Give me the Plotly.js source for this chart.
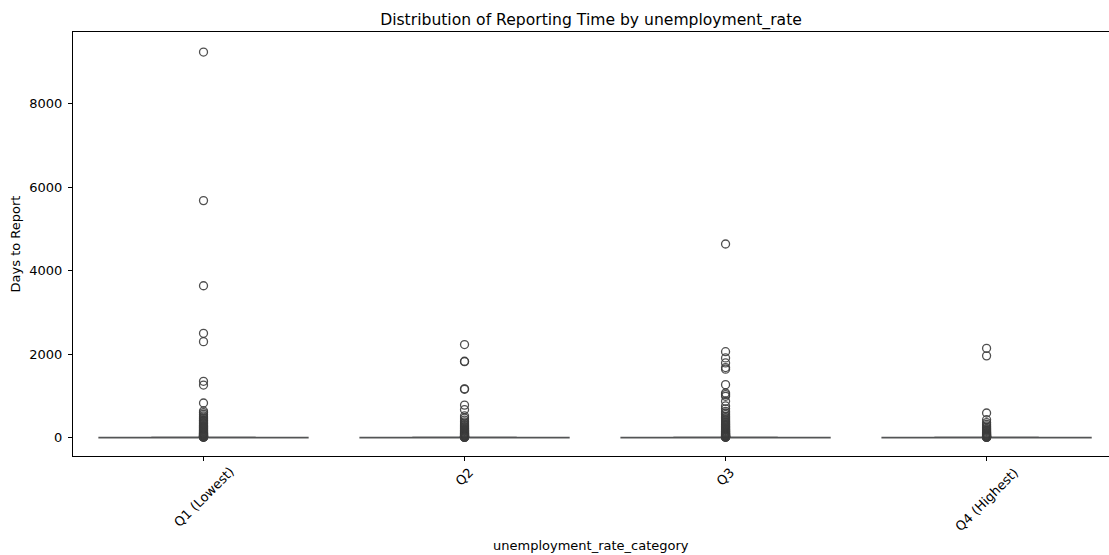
<!DOCTYPE html>
<html>
<head>
<meta charset="utf-8">
<script src="https://cdn.plot.ly/plotly-3.0.1.min.js"></script>
<style>
  html, body { margin: 0; padding: 0; background: #ffffff; }
  #chart { width: 1109px; height: 555px; }
</style>
</head>
<body>
<div id="chart"></div>
<script>
// Unemployment-rate quartile groups
const categories = ["Q1 (Lowest)", "Q2", "Q3", "Q4 (Highest)"];

// Box summary (days to report) for each group
const q1Values = [0, 0, 0, 0];
const medianValues = [1, 1, 1, 1];
const q3Values = [3, 3, 3, 3];
const lowerFence = [0, 0, 0, 0];
const upperFence = [7, 7, 7, 7];

// Outlying reporting times (days) for each group
const outliersQ1 = [9240, 5680, 3640, 2500, 2300, 1350, 1260, 830, 640, 600, 560, 520, 490, 460,
  430, 410, 390, 370, 350, 330, 310, 290, 275, 260, 245, 230, 215, 200, 185, 170, 158, 146, 135,
  124, 114, 105, 96, 88, 80, 72, 65, 58, 52, 46, 41, 36, 31, 27, 23, 20, 16, 12, 9];
const outliersQ2 = [2230, 1830, 1820, 1170, 1160, 780, 670, 520, 470, 420, 380, 350, 320, 290, 265,
  240, 220, 200, 180, 165, 150, 135, 120, 108, 96, 85, 75, 66, 57, 49, 42, 36, 30, 25, 20, 16, 12, 9, 7];
const outliersQ3 = [4640, 2060, 1910, 1790, 1680, 1640, 1270, 1070, 1030, 990, 870, 760, 690, 630, 590,
  550, 510, 480, 450, 420, 395, 370, 345, 320, 300, 280, 260, 240, 222, 205, 190, 175, 160, 146, 133,
  120, 108, 97, 87, 77, 68, 60, 52, 45, 38, 32, 27, 22, 18, 14, 11, 8];
const outliersQ4 = [2140, 1960, 590, 430, 360, 320, 280, 250, 220, 195, 170, 150, 130, 112, 96, 82,
  70, 58, 48, 39, 31, 24, 18, 13, 9, 6];

const yTickValues = [0, 2000, 4000, 6000, 8000];

const outlierGroups = [outliersQ1, outliersQ2, outliersQ3, outliersQ4];
const outX = [];
const outY = [];
outlierGroups.forEach((vals, i) => {
  vals.forEach(v => { outX.push(categories[i]); outY.push(v); });
});

const lineGray = "rgba(70,70,70,0.9)";
const fontFamily = "DejaVu Sans, Liberation Sans, sans-serif";
const labelSize = 13;

const boxTrace = {
  type: "box",
  x: categories,
  q1: q1Values,
  median: medianValues,
  q3: q3Values,
  lowerfence: lowerFence,
  upperfence: upperFence,
  width: 0.8,
  whiskerwidth: 0.5,
  boxpoints: false,
  fillcolor: "#3274a1",
  line: { color: lineGray, width: 1.5 },
  hoverinfo: "skip",
  showlegend: false
};

const outlierTrace = {
  type: "scatter",
  mode: "markers",
  x: outX,
  y: outY,
  marker: {
    symbol: "circle-open",
    size: 8,
    color: "rgba(60,60,60,0.9)",
    line: { width: 1.3 }
  },
  showlegend: false,
  hoverinfo: "y"
};

// Rotated category labels, centred under each tick
const tickLabels = categories.map(c => ({
  text: c,
  x: c,
  xref: "x",
  y: 0,
  yref: "paper",
  yshift: -7,
  xanchor: "center",
  yanchor: "top",
  textangle: -45,
  showarrow: false,
  borderpad: 0,
  font: { family: fontFamily, size: labelSize, color: "#000000" }
}));

const xTitle = {
  text: "unemployment_rate_category",
  x: 0.5,
  xref: "paper",
  y: 0,
  yref: "paper",
  yshift: -89,
  xanchor: "center",
  yanchor: "middle",
  showarrow: false,
  font: { family: fontFamily, size: labelSize, color: "#000000" }
};

const layout = {
  width: 1109,
  height: 555,
  margin: { l: 73, r: 0, t: 32, b: 99 },
  paper_bgcolor: "#ffffff",
  plot_bgcolor: "#ffffff",
  font: { family: fontFamily, color: "#000000", size: labelSize },
  title: {
    text: "Distribution of Reporting Time by unemployment_rate",
    font: { family: fontFamily, size: 15.6, color: "#000000" },
    x: 0.5,
    xanchor: "center",
    xref: "paper",
    y: 1,
    yref: "paper",
    yanchor: "bottom",
    pad: { b: 7 }
  },
  annotations: tickLabels.concat([xTitle]),
  xaxis: {
    type: "category",
    categoryorder: "array",
    categoryarray: categories,
    range: [-0.5, 3.469],
    showgrid: false,
    zeroline: false,
    showline: true,
    linecolor: "#000000",
    linewidth: 1,
    mirror: true,
    ticks: "outside",
    ticklen: 4,
    tickcolor: "#000000",
    showticklabels: false
  },
  yaxis: {
    range: [-440, 9720],
    tickvals: yTickValues,
    ticktext: yTickValues.map(String),
    showgrid: false,
    zeroline: false,
    showline: true,
    linecolor: "#000000",
    linewidth: 1,
    mirror: false,
    ticks: "outside",
    ticklen: 4,
    tickcolor: "#000000",
    ticklabelstandoff: 3,
    tickfont: { family: fontFamily, size: labelSize, color: "#000000" },
    title: {
      text: "Days to Report",
      font: { family: fontFamily, size: labelSize, color: "#000000" },
      standoff: 5
    }
  }
};

Plotly.newPlot("chart", [boxTrace, outlierTrace], layout, { displayModeBar: false, staticPlot: true });
</script>
</body>
</html>
